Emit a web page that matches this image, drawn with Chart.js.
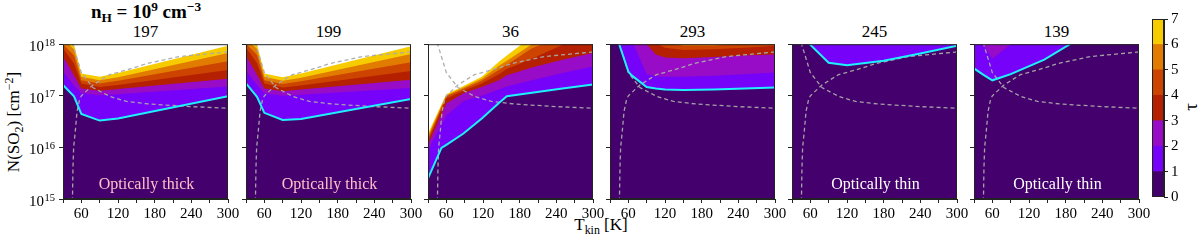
<!DOCTYPE html>
<html>
<head>
<meta charset="utf-8">
<script src="https://cdn.jsdelivr.net/npm/chart.js@4.4.1/dist/chart.umd.min.js"></script>
<style>
  html, body { margin: 0; padding: 0; background: #fff; }
  body { width: 1200px; height: 242px; position: relative; overflow: hidden;
         font-family: "Liberation Serif", "Times New Roman", serif; color: #000; }
  canvas { position: absolute; }
  .txt { position: absolute; white-space: nowrap; line-height: 1; }
  .txt sub, .txt sup { font-size: 70%; line-height: 0; position: relative; vertical-align: baseline; }
  .txt sup { top: -0.5em; }
  .txt sub { top: 0.3em; }
  .rot { transform: translate(-50%, -50%) rotate(-90deg); }
  .ctr { transform: translateX(-50%); }
</style>
</head>
<body>
<div class="txt ctr" style="left:146px; top:2px; font-size:19px; font-weight:bold;">n<sub>H</sub> = 10<sup>9</sup> cm<sup>&minus;3</sup></div>
<div class="txt rot" style="left:13px; top:122px; font-size:17px;">N(SO<sub>2</sub>) [cm<sup>&minus;2</sup>]</div>
<div class="txt ctr" style="left:601px; top:216px; font-size:17px;">T<sub>kin</sub> [K]</div>
<div class="txt rot" style="left:1190px; top:107px; font-size:19px;">&tau;</div>
<div id="titles"></div>
<script>
// tau levels of the filled contours and their colours (gnuplot map)
const LEVELS = [0, 1, 2, 3, 4, 5, 6, 7];
const BAND_COLORS = ['#44006d', '#7602f9', '#980cc7', '#b42000', '#cc4400', '#e27c00', '#f6cc00'];

// axis ticks
const TEMP_TICKS = [60, 120, 180, 240, 300];
const LOGN_TICKS = [15, 16, 17, 18];

// panel ids (titles)
const PANEL_IDS = ['197', '199', '36', '293', '245', '139'];

// per panel: T_kin nodes [K] and log10 N(SO2) of the tau = 1, 2, 3 ... contours
const T_197 = [30, 48, 60, 90, 120, 300];
const TAU_197 = [
    [17.21, 16.99, 16.65, 16.52, 16.56, 16.99],
    [17.47, 17.20, 17.05, 17.01, 17.03, 17.18],
    [17.76, 17.40, 17.14, 17.10, 17.13, 17.33],
    [17.92, 17.62, 17.24, 17.17, 17.21, 17.50],
    [18.00, 17.78, 17.30, 17.24, 17.29, 17.67],
    [18.10, 17.90, 17.37, 17.30, 17.36, 17.83],
    [18.20, 18.00, 17.43, 17.37, 17.44, 17.97]
];

const T_199 = [30, 48, 60, 90, 120, 300];
const TAU_199 = [
    [17.24, 16.98, 16.67, 16.53, 16.55, 16.94],
    [17.48, 17.21, 17.05, 17.00, 17.02, 17.15],
    [17.77, 17.41, 17.14, 17.09, 17.12, 17.31],
    [17.93, 17.63, 17.24, 17.16, 17.20, 17.48],
    [18.01, 17.79, 17.30, 17.23, 17.28, 17.65],
    [18.11, 17.91, 17.37, 17.29, 17.35, 17.81],
    [18.21, 18.01, 17.43, 17.36, 17.43, 17.96]
];

const T_36 = [30, 52, 60, 88, 118, 146, 159, 200, 250, 300];
const TAU_36 = [
    [15.40, 15.99, 16.05, 16.27, 16.56, 16.86, 16.99, 17.06, 17.14, 17.22],
    [15.95, 16.44, 16.62, 16.90, 17.00, 17.12, 17.18, 17.30, 17.44, 17.57],
    [16.05, 16.64, 16.85, 17.05, 17.17, 17.30, 17.40, 17.55, 17.70, 17.83],
    [16.12, 16.73, 16.95, 17.10, 17.24, 17.42, 17.52, 17.72, 17.99, 18.20],
    [16.17, 16.77, 16.99, 17.13, 17.29, 17.50, 17.60, 17.92, 18.15, 18.35],
    [16.22, 16.80, 17.01, 17.16, 17.33, 17.58, 17.68, 18.00, 18.30, 18.55],
    [16.27, 16.83, 17.03, 17.19, 17.37, 17.66, 17.78, 18.15, 18.45, 18.70]
];

const T_293 = [30, 45, 60, 65, 90, 105, 120, 150, 200, 250, 300];
const TAU_293 = [
    [18.60, 18.00, 17.47, 17.40, 17.17, 17.14, 17.12, 17.11, 17.12, 17.14, 17.16],
    [19.20, 18.80, 18.20, 18.10, 17.42, 17.38, 17.37, 17.37, 17.39, 17.42, 17.45],
    [19.50, 19.20, 18.70, 18.55, 18.00, 17.80, 17.74, 17.73, 17.75, 17.78, 17.80],
    [19.80, 19.50, 19.10, 19.00, 18.40, 18.02, 17.93, 17.89, 17.90, 17.93, 17.97],
    [20.00, 19.80, 19.40, 19.30, 18.70, 18.25, 18.05, 17.97, 17.97, 18.03, 18.08],
    [20.00, 20.00, 20.00, 20.00, 20.00, 20.00, 20.00, 20.00, 20.00, 20.00, 20.00]
];

const T_245 = [30, 59, 90, 120, 180, 240, 300];
const TAU_245 = [
    [18.60, 18.00, 17.64, 17.59, 17.68, 17.82, 17.97],
    [19.00, 19.00, 19.00, 19.00, 19.00, 19.00, 19.00]
];

const T_139 = [30, 45, 60, 75, 90, 145, 187, 240, 300];
const TAU_139 = [
    [17.53, 17.41, 17.30, 17.36, 17.42, 17.70, 18.00, 18.40, 18.80],
    [18.30, 18.00, 17.72, 17.86, 18.00, 18.60, 19.00, 19.00, 19.00],
    [19.00, 19.00, 19.00, 19.00, 19.00, 19.00, 19.00, 19.00, 19.00]
];

// the two grey dashed curves (same in every panel)
const CURVE_A_T = [45.4, 46.3, 47.4, 50, 53, 57, 60, 79, 106, 134, 169, 220, 300];
const CURVE_A_N = [14.95, 15.6, 16.0, 16.3, 16.7, 16.92, 17.0, 17.21, 17.41, 17.5, 17.63, 17.76, 17.85];
const CURVE_B_T = [45, 60, 79, 106, 134, 172, 240, 300];
const CURVE_B_N = [18.03, 17.45, 17.16, 16.99, 16.89, 16.84, 16.79, 16.76];

// annotation text per panel
const NOTES = ['Optically thick', 'Optically thick', '', '', 'Optically thin', 'Optically thin'];
const NOTE_COLORS = ['pink', 'pink', '', '', 'white', 'white'];
const NOTE_LOGN = 15.19;

// layout (page pixels)
const PLOT_LEFT = [63, 246, 428, 610, 792, 974];
const PLOT_W = 165, PLOT_TOP = 44, PLOT_H = 155;
const AXIS_W = 48, PAD_TOP = 10, PAD_RIGHT = 16, XAXIS_H = 28;
const SERIF = '"Liberation Serif", "Times New Roman", serif';

Chart.defaults.font.family = SERIF;
Chart.defaults.color = '#000';

const frame = {
    id: 'frame',
    afterDraw(chart) {
        const { ctx, chartArea: a } = chart;
        ctx.save();
        ctx.strokeStyle = '#222';
        ctx.lineWidth = 1;
        ctx.strokeRect(a.left + 0.5, a.top + 0.5, a.width - 1, a.height - 1);
        ctx.restore();
    }
};

// "10^n" tick labels on the first panel
const decadeLabels = {
    id: 'decadeLabels',
    afterDraw(chart, args, opts) {
        if (!opts.show) return;
        const { ctx, chartArea, scales: { y } } = chart;
        ctx.save();
        ctx.fillStyle = '#000';
        ctx.textAlign = 'right';
        ctx.textBaseline = 'alphabetic';
        LOGN_TICKS.forEach(v => {
            const py = y.getPixelForValue(v);
            const xr = chartArea.left - 8;
            ctx.font = '10.5px ' + SERIF;
            const ew = ctx.measureText(String(v)).width;
            ctx.fillText(String(v), xr, py + 1.5);
            ctx.font = '15px ' + SERIF;
            ctx.fillText('10', xr - ew - 0.5, py + 7);
        });
        ctx.restore();
    }
};

const note = {
    id: 'note',
    afterDatasetsDraw(chart, args, opts) {
        if (!opts.text) return;
        const { ctx, chartArea: a, scales: { y } } = chart;
        ctx.save();
        ctx.font = '16px ' + SERIF;
        ctx.fillStyle = opts.color;
        ctx.textAlign = 'center';
        ctx.textBaseline = 'alphabetic';
        ctx.fillText(opts.text, (a.left + a.right) / 2 + 1, y.getPixelForValue(NOTE_LOGN));
        ctx.restore();
    }
};

function toPoints(xs, ys) {
    return xs.map((x, j) => ({ x: x, y: ys[j] }));
}

function makePanel(i, temps, taus) {
    const cv = document.createElement('canvas');
    cv.width = AXIS_W + PLOT_W + PAD_RIGHT;
    cv.height = PAD_TOP + PLOT_H + XAXIS_H;
    cv.style.left = (PLOT_LEFT[i] - AXIS_W) + 'px';
    cv.style.top = (PLOT_TOP - PAD_TOP) + 'px';
    document.body.appendChild(cv);

    const t = document.createElement('div');
    t.className = 'txt ctr';
    t.style.cssText = 'left:' + (PLOT_LEFT[i] + PLOT_W / 2) + 'px; top:23px; font-size:17px;';
    t.textContent = PANEL_IDS[i];
    document.getElementById('titles').appendChild(t);

    // every contour fills down to the bottom; lower levels are drawn on top
    const datasets = taus.map((row, k) => ({
        data: toPoints(temps, row),
        fill: 'start',
        backgroundColor: BAND_COLORS[k],
        borderColor: k === 0 ? '#1ff0ff' : 'rgba(0,0,0,0)',
        borderWidth: k === 0 ? 2 : 0,
        pointRadius: 0,
        order: k === 0 ? 0 : 10 + k
    }));
    [[CURVE_A_T, CURVE_A_N], [CURVE_B_T, CURVE_B_N]].forEach(([xs, ys]) => {
        datasets.push({
            data: toPoints(xs, ys),
            fill: false,
            borderColor: 'rgba(170,170,170,0.95)',
            borderWidth: 1.3,
            borderDash: [4, 3],
            pointRadius: 0,
            order: 1
        });
    });

    return new Chart(cv, {
        type: 'line',
        data: { datasets },
        options: {
            responsive: false,
            animation: false,
            events: [],
            layout: { padding: { top: PAD_TOP, right: PAD_RIGHT, left: 0, bottom: 0 } },
            plugins: {
                legend: { display: false },
                tooltip: { enabled: false },
                filler: { drawTime: 'beforeDatasetsDraw' },
                note: { text: NOTES[i], color: NOTE_COLORS[i] },
                decadeLabels: { show: i === 0 }
            },
            scales: {
                x: {
                    type: 'linear', min: 30, max: 300,
                    ticks: {
                        stepSize: 30, autoSkip: false, maxRotation: 0, padding: 2,
                        font: { family: SERIF, size: 15 },
                        callback: v => TEMP_TICKS.includes(v) ? String(v) : ''
                    },
                    grid: { drawOnChartArea: false, tickLength: 4, color: '#222' },
                    border: { color: '#222' },
                    afterFit: s => { s.height = XAXIS_H; }
                },
                y: {
                    type: 'linear', min: 15, max: 18,
                    ticks: { stepSize: 1, callback: () => '' },
                    grid: { drawOnChartArea: false, tickLength: 4, color: '#222' },
                    border: { color: '#222' },
                    afterFit: s => { s.width = AXIS_W; }
                }
            }
        },
        plugins: [frame, note, decadeLabels]
    });
}

function makeColorbar() {
    const cv = document.createElement('canvas');
    const barW = 12, axW = 40, padV = 10;
    cv.width = barW + axW;
    cv.height = 182 + 2 * padV;
    cv.style.left = '1152px';
    cv.style.top = (17 - padV) + 'px';
    document.body.appendChild(cv);
    const bands = BAND_COLORS.map((c, k) => ({
        data: [LEVELS[k + 1] - LEVELS[k]],
        backgroundColor: c,
        borderWidth: 0,
        barPercentage: 1,
        categoryPercentage: 1
    }));
    return new Chart(cv, {
        type: 'bar',
        data: { labels: [''], datasets: bands },
        options: {
            responsive: false,
            animation: false,
            events: [],
            layout: { padding: { top: padV, bottom: padV, left: 0, right: 0 } },
            plugins: { legend: { display: false }, tooltip: { enabled: false } },
            scales: {
                x: { stacked: true, display: false },
                y: {
                    stacked: true, position: 'right', min: LEVELS[0], max: LEVELS[LEVELS.length - 1],
                    ticks: { stepSize: 1, padding: 3, font: { family: SERIF, size: 15 } },
                    grid: { drawOnChartArea: false, tickLength: 4, color: '#222' },
                    border: { color: '#222' },
                    afterFit: s => { s.width = axW; }
                }
            }
        },
        plugins: [frame]
    });
}

document.addEventListener('DOMContentLoaded', () => {
    makePanel(0, T_197, TAU_197);
    makePanel(1, T_199, TAU_199);
    makePanel(2, T_36, TAU_36);
    makePanel(3, T_293, TAU_293);
    makePanel(4, T_245, TAU_245);
    makePanel(5, T_139, TAU_139);
    makeColorbar();
});
</script>
</body>
</html>
